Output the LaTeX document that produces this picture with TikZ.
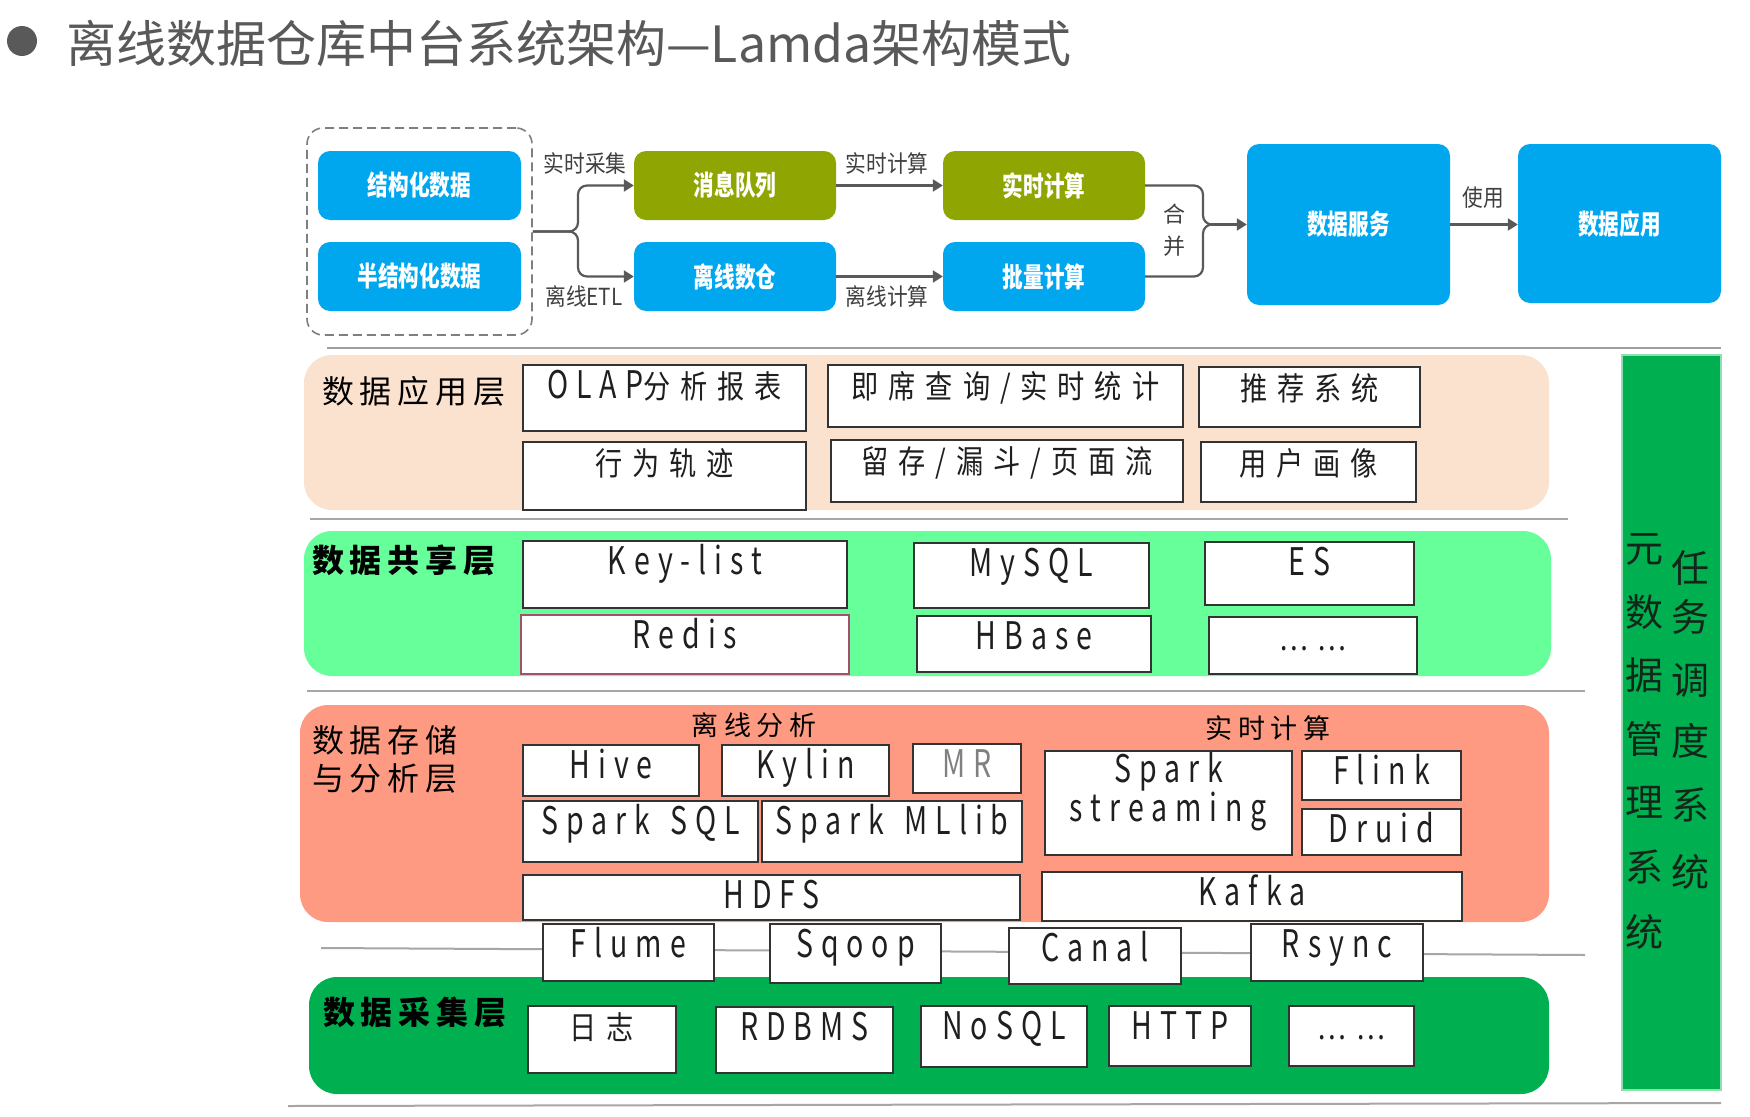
\documentclass[tikz,border=0pt]{standalone}
\usepackage{fontspec}
\usetikzlibrary{arrows.meta}
\setmainfont{Noto Sans CJK SC}
\newfontfamily\bxf{Noto Sans CJK SC}[FakeStretch=0.85,LetterSpace=31]
\newfontfamily\latf{Noto Sans CJK SC}[FakeStretch=0.75,LetterSpace=21]
\newfontfamily\flf{Noto Sans CJK SC}[FakeStretch=0.88]
\newfontfamily\flb{Noto Sans CJK SC}[FakeStretch=0.75]
\newfontfamily\lyf{Noto Sans CJK SC}[LetterSpace=18]
\newfontfamily\shf{Noto Sans CJK SC}[LetterSpace=22]
\newcommand\lw[1]{{\latf\fontsize{38}{38}\selectfont #1}}
\definecolor{tgray}{HTML}{595959}
\definecolor{cblue}{HTML}{00A7EF}
\definecolor{colive}{HTML}{8FA602}
\definecolor{cgray}{HTML}{595959}
\definecolor{lblc}{HTML}{404040}
\definecolor{peach}{HTML}{FBE2CE}
\definecolor{lgreen}{HTML}{66FF99}
\definecolor{salmon}{HTML}{FF9A82}
\definecolor{dgreen}{HTML}{00B050}
\definecolor{txtc}{HTML}{1F1F1F}
\definecolor{boxline}{HTML}{333333}
\definecolor{redisline}{HTML}{A3506F}
\definecolor{sepc}{HTML}{A6A6A6}
\definecolor{barline}{HTML}{8FE0B0}
\definecolor{dashc}{HTML}{7F7F7F}
\definecolor{bartxt}{HTML}{14261A}
\newcommand\rectnode[7][]{\node[#1,minimum width=#5-#3,minimum height=#6-#4] (#2) at ({(#3+#5)/2},{(#4+#6)/2}) {#7};}
\newcommand\wbx[7][boxline]{\rectnode[wbox,draw=#1]{#2}{#3}{#4}{#5}{#6}{}\node[btxt] (#2t) at ([yshift=-34pt]#2.north) {#7};}
\begin{document}
\begin{tikzpicture}[x=1pt,y=-1pt,
  conn/.style={draw=cgray, line width=2.2pt},
  arrowend/.style={-{Triangle[length=10pt,width=12pt]}},
  flowbox/.style={rounded corners=12pt, inner sep=0pt, text=white, font=\flb\bfseries\fontsize{27.5}{27.5}\selectfont},
  flbl/.style={inner sep=0pt, text=lblc, font=\flf\fontsize{23.5}{23.5}\selectfont},
  wbox/.style={fill=white, line width=1.3pt, inner sep=0pt},
  btxt/.style={anchor=base, inner sep=0pt, text=txtc, font=\bxf\fontsize{32}{32}\selectfont},
  layerbox/.style={rounded corners=28pt, draw=none, inner sep=0pt},
  lyl/.style={inner sep=0pt, anchor=west, text=black, align=left, font=\lyf\fontsize{32}{38}\selectfont},
  sepline/.style={draw=sepc, line width=2pt},
  vchar/.style={inner sep=0pt, text=bartxt, font=\fontsize{38}{38}\selectfont},
]
\useasboundingbox (0,0) rectangle (1750,1116);
\fill[white] (0,0) rectangle (1750,1116);

% title
\fill[tgray] (22,41) circle (15);
\node[anchor=west, inner sep=0pt, text=tgray, font=\fontsize{50}{50}\selectfont] (title) at (66,43) {离线数据仓库中台系统架构—Lamda架构模式};

% top flow
\rectnode[draw=dashc, dash pattern=on 9pt off 5pt, line width=1.6pt, rounded corners=16pt, inner sep=0pt]{src}{307}{128}{532}{335}{}
\rectnode[flowbox,fill=cblue]{jg}{318}{151}{521}{220}{结构化数据}
\rectnode[flowbox,fill=cblue]{bjg}{318}{242}{521}{311}{半结构化数据}
\rectnode[flowbox,fill=colive]{mq}{634}{151}{836}{220}{消息队列}
\rectnode[flowbox,fill=cblue]{lx}{634}{242}{836}{311}{离线数仓}
\rectnode[flowbox,fill=colive]{ss}{943}{151}{1145}{220}{实时计算}
\rectnode[flowbox,fill=cblue]{pl}{943}{242}{1145}{311}{批量计算}
\rectnode[flowbox,fill=cblue]{fw}{1247}{144}{1450}{305}{数据服务}
\rectnode[flowbox,fill=cblue]{fa}{1518}{144}{1721}{303}{数据应用}

\draw[conn,arrowend,rounded corners=9pt] (src.east) -- (578,231.5) -- (578,185.5) -- (mq.west);
\draw[conn,arrowend,rounded corners=9pt] (src.east) -- (578,231.5) -- (578,276.5) -- (lx.west);
\draw[conn,arrowend] (mq.east) -- (ss.west);
\draw[conn,arrowend] (lx.east) -- (pl.west);
\coordinate (mg) at (1212,224.5);
\draw[conn,rounded corners=9pt] (ss.east) -- (1203,185.5) -- (1203,224.5) -- (mg);
\draw[conn,rounded corners=9pt] (pl.east) -- (1203,276.5) -- (1203,224.5) -- (mg);
\draw[conn,arrowend] (mg) -- (mg -| fw.west);
\draw[conn,arrowend] (fw.east) -- (fw.east -| fa.west);

\node[flbl] (l1) at (585,163) {实时采集};
\node[flbl] (l2) at (584,296) {离线ETL};
\node[flbl] (l3) at (887,163) {实时计算};
\node[flbl] (l4) at (887,296) {离线计算};
\node[flbl] (l5) at (1483,198) {使用};
\node[flbl, font=\fontsize{22}{22}\selectfont] (l6) at (1174,214) {合};
\node[flbl, font=\fontsize{22}{22}\selectfont] (l7) at (1174,246) {并};

% separator lines
\draw[sepline, draw=gray!75, line width=2.5pt] (327,348) -- (1721,348);
\draw[sepline] (310,519) -- (1568,519);
\draw[sepline] (307,691) -- (1585,691);
\draw[sepline] (321,948) -- (1585,955);
\draw[sepline] (288,1106) -- (1721,1103);

% layers
\rectnode[layerbox,fill=peach]{L1}{304}{355}{1549}{510}{}
\rectnode[layerbox,fill=lgreen]{L2}{304}{531}{1551}{676}{}
\rectnode[layerbox,fill=salmon]{L3}{300}{705}{1549}{922}{}
\rectnode[layerbox,fill=dgreen]{L4}{309}{977}{1549}{1094}{}

\node[lyl] (L1t) at (322,391) {数据应用层};
\node[lyl, font=\lyf\bfseries\fontsize{32}{38}\selectfont] (L2t) at (312,560) {数据共享层};
\node[lyl] (L3t) at (312,759) {数据存储\\与分析层};
\node[lyl, font=\lyf\bfseries\fontsize{32}{38}\selectfont] (L4t) at (323,1012) {数据采集层};

% application layer
\wbx{olap}{523}{365}{806}{431}{\lw{OLAP}分析报表}
\wbx{xw}{523}{442}{806}{510}{行为轨迹}
\wbx{jx}{828}{365}{1183}{427}{即席查询/实时统计}
\wbx{lc}{831}{440}{1183}{502}{留存/漏斗/页面流}
\wbx{tj}{1199}{367}{1420}{427}{推荐系统}
\wbx{yh}{1201}{442}{1416}{502}{用户画像}

% sharing layer
\wbx{kl}{523}{541}{847}{608}{\lw{Key-list}}
\wbx[redisline]{rd}{521}{615}{849}{674}{\lw{Redis}}
\wbx{my}{914}{543}{1149}{608}{\lw{MySQL}}
\wbx{hb}{917}{616}{1151}{672}{\lw{HBase}}
\wbx{es}{1205}{542}{1414}{605}{\lw{ES}}
\wbx{etc}{1209}{617}{1417}{674}{……}

% storage layer
\node[inner sep=0pt, text=black, font=\shf\fontsize{27}{27}\selectfont] (sh1) at (754,725) {离线分析};
\node[inner sep=0pt, text=black, font=\shf\fontsize{27}{27}\selectfont] (sh2) at (1268,728) {实时计算};
\wbx{hive}{523}{745}{699}{796}{\lw{Hive}}
\wbx{ky}{722}{745}{889}{796}{\lw{Kylin}}
\rectnode[wbox,draw=boxline]{mr}{913}{744}{1021}{793}{}
\node[btxt,text=gray] (mrt) at ([yshift=-34pt]mr.north) {\lw{MR}};
\wbx{ssql}{523}{801}{758}{862}{\lw{Spark\hspace{20pt}SQL}}
\wbx{sml}{762}{801}{1022}{862}{\lw{Spark\hspace{20pt}MLlib}}
\rectnode[wbox,draw=boxline]{sst}{1045}{751}{1292}{855}{}
\node[btxt] (sst1) at ([yshift=-32pt]sst.north) {\lw{Spark}};
\node[btxt] (sst2) at ([yshift=-71pt]sst.north) {\lw{streaming}};
\wbx{fl}{1302}{751}{1461}{800}{\lw{Flink}}
\wbx{dr}{1302}{809}{1461}{855}{\lw{Druid}}
\wbx{hdfs}{523}{875}{1020}{920}{\lw{HDFS}}
\wbx{kf}{1042}{872}{1462}{921}{\lw{Kafka}}

% transfer tools
\wbx{flume}{543}{924}{714}{981}{\lw{Flume}}
\wbx{sq}{770}{924}{941}{983}{\lw{Sqoop}}
\wbx{cn}{1009}{928}{1181}{984}{\lw{Canal}}
\wbx{rs}{1251}{924}{1423}{981}{\lw{Rsync}}

% collection layer
\wbx{rz}{528}{1006}{676}{1073}{日志}
\wbx{rdb}{716}{1007}{893}{1073}{\lw{RDBMS}}
\wbx{nos}{921}{1006}{1087}{1067}{\lw{NoSQL}}
\wbx{http}{1109}{1006}{1251}{1066}{\lw{HTTP}}
\wbx{etc2}{1289}{1006}{1414}{1066}{……}

% vertical bar
\rectnode[fill=dgreen, draw=barline, line width=1.5pt]{bar}{1622}{355}{1721}{1090}{}
\foreach \c/\yy [count=\i] in {元/549,数/612,据/675,管/739,理/802,系/867,统/932}
  \node[vchar] (ma\i) at (1644,\yy) {\c};
\foreach \c/\yy [count=\i] in {任/568,务/617,调/680,度/741,系/805,统/872}
  \node[vchar] (rw\i) at (1690,\yy) {\c};
\end{tikzpicture}
\end{document}
